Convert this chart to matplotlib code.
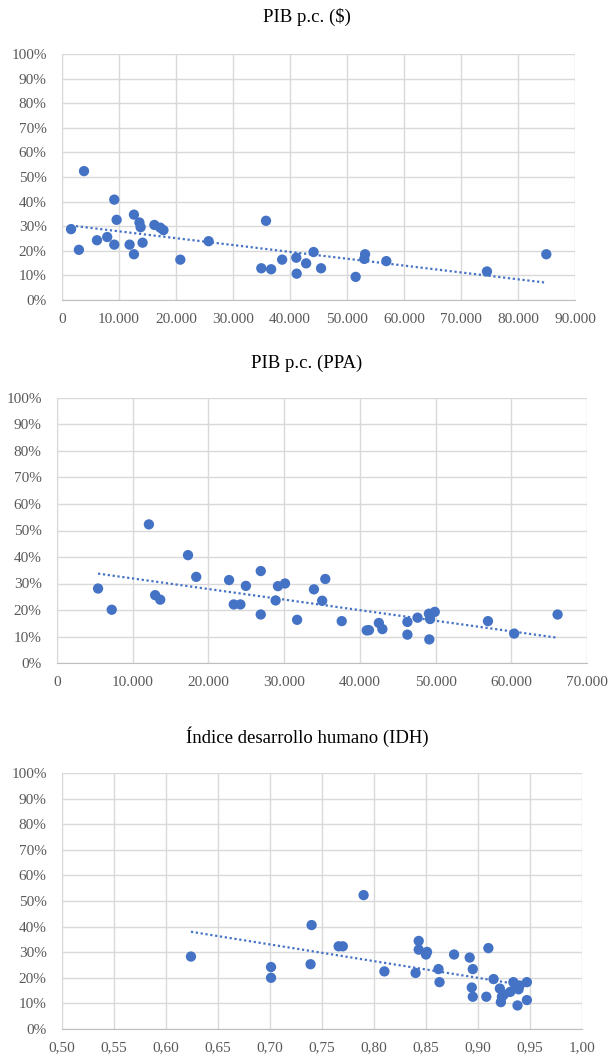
import numpy as np
import matplotlib
matplotlib.use("Agg")
import matplotlib.pyplot as plt
from matplotlib.ticker import FuncFormatter

# ---------------- data ----------------
gdp_usd = [1586, 3862, 2966, 6138, 7931, 9172, 9586, 9172, 11862, 12621, 12621,
           13586, 13793, 14138, 16207, 17241, 17793, 20759, 25724, 34966, 35793,
           36690, 38621, 41103, 41172, 42828, 44138, 45448, 51517, 53172, 53034,
           56897, 74552, 84966]
share_usd = [28.8, 52.4, 20.4, 24.3, 25.6, 40.8, 32.6, 22.5, 22.5, 34.7, 18.6,
             31.5, 29.6, 23.3, 30.5, 29.4, 28.4, 16.4, 23.9, 12.9, 32.2,
             12.5, 16.4, 17.2, 10.7, 14.9, 19.5, 12.9, 9.4, 18.6, 16.7,
             15.8, 11.6, 18.6]

gdp_ppp = [5424, 7231, 12138, 12965, 13636, 17304, 18388, 22727, 23347, 24225,
           24948, 26911, 26911, 28874, 29184, 30114, 31715, 33936, 35021, 35434,
           37603, 40909, 41200, 42510, 42975, 46281, 46281, 47624, 49122, 49277,
           49174, 49897, 56921, 60382, 66116]
share_ppp = [28.1, 20.1, 52.3, 25.6, 23.9, 40.7, 32.5, 31.3, 22.1, 22.1,
             29.1, 34.7, 18.3, 23.6, 29.0, 30.0, 16.3, 27.8, 23.5, 31.7,
             15.8, 12.3, 12.4, 15.1, 12.8, 15.5, 10.7, 17.1, 18.6, 16.6,
             8.9, 19.3, 15.8, 11.1, 18.3]

hdi = [0.624, 0.701, 0.701, 0.739, 0.740, 0.766, 0.770, 0.790, 0.810, 0.840,
       0.843, 0.843, 0.850, 0.851, 0.862, 0.863, 0.877, 0.892, 0.895, 0.894,
       0.895, 0.908, 0.910, 0.915, 0.921, 0.923, 0.922, 0.931, 0.934, 0.936,
       0.939, 0.938, 0.947, 0.947, 0.925, 0.940]
share_hdi = [28.3, 24.2, 20.0, 25.3, 40.6, 32.3, 32.3, 52.3, 22.5, 21.9,
             34.4, 31.0, 29.1, 30.1, 23.4, 18.3, 29.1, 27.9, 23.4, 16.2,
             12.6, 12.6, 31.6, 19.5, 15.8, 12.6, 10.5, 14.5, 18.3, 16.5,
             15.5, 9.2, 18.3, 11.3, 13.5, 17.0]

titles = ["PIB p.c. ($)", "PIB p.c. (PPA)", "Índice desarrollo humano (IDH)"]
x_ticks_usd = list(range(0, 90001, 10000))
x_ticks_ppp = list(range(0, 70001, 10000))
x_ticks_hdi = [0.50, 0.55, 0.60, 0.65, 0.70, 0.75, 0.80, 0.85, 0.90, 0.95, 1.00]
y_ticks = list(range(0, 101, 10))

# ---------------- style ----------------
W, H = 614, 1056
DPI = 100
BLUE = "#4472C4"
GRID = "#D9D9D9"
TXT = "#595959"
SERIF = ["Liberation Serif", "DejaVu Serif"]
plt.rcParams["font.family"] = SERIF

fig = plt.figure(figsize=(W / DPI, H / DPI), dpi=DPI)


def px_axes(left, top, right, bottom):
    return fig.add_axes([left / W, 1 - bottom / H, (right - left) / W, (bottom - top) / H])


def thousands(v, pos):
    return f"{int(round(v)):,}".replace(",", ".")


def decimals(v, pos):
    return f"{v:.2f}".replace(".", ",")


def style(ax, xticks, fmt):
    ax.set_xlim(xticks[0], xticks[-1])
    ax.set_ylim(0, 100)
    ax.set_xticks(xticks)
    ax.set_yticks(y_ticks)
    ax.xaxis.set_major_formatter(FuncFormatter(fmt))
    ax.yaxis.set_major_formatter(FuncFormatter(lambda v, p: f"{int(v)}%"))
    ax.grid(True, color=GRID, linewidth=1.0)
    ax.set_axisbelow(True)
    for s in ["top", "right"]:
        ax.spines[s].set_visible(False)
    ax.spines["left"].set_color(GRID)
    ax.spines["bottom"].set_color("#BFBFBF")
    ax.tick_params(axis="both", length=0, labelsize=11, labelcolor=TXT)
    ax.tick_params(axis="y", pad=11)
    ax.tick_params(axis="x", pad=9)


def panel(ax, x, y, xticks, fmt, title, title_y):
    style(ax, xticks, fmt)
    x = np.asarray(x, float)
    y = np.asarray(y, float)
    ax.scatter(x, y, s=55, color=BLUE, edgecolors="none", zorder=3, clip_on=False)
    k, b = np.polyfit(x, y, 1)
    xs = np.array([x.min(), x.max()])
    ax.plot(xs, k * xs + b, color=BLUE, linestyle=(0, (1, 1.2)), linewidth=1.6, zorder=2)
    fig.text(307 / W, 1 - title_y / H, title, ha="center", va="center",
             fontsize=13.5, color="#000000")


ax1 = px_axes(62, 54, 575, 300)
panel(ax1, gdp_usd, share_usd, x_ticks_usd, thousands, titles[0], 17)

ax2 = px_axes(57, 398, 587, 663)
panel(ax2, gdp_ppp, share_ppp, x_ticks_ppp, thousands, titles[1], 363)

ax3 = px_axes(62, 773, 582, 1029)
panel(ax3, hdi, share_hdi, x_ticks_hdi, decimals, titles[2], 737)

fig.savefig("out.png", dpi=DPI, facecolor="white")
